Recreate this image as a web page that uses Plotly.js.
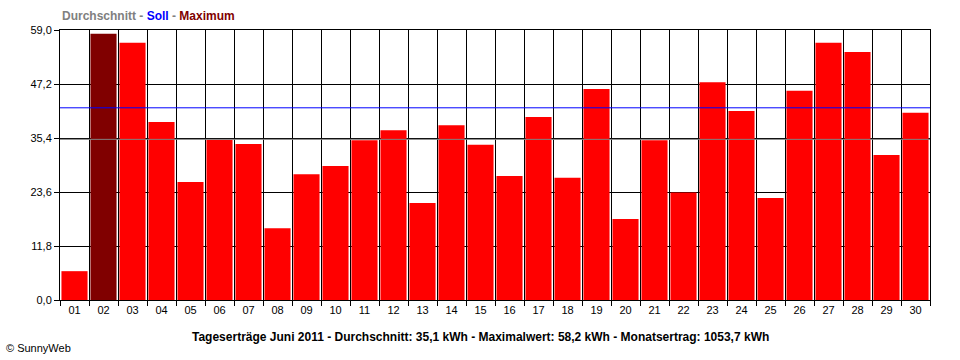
<!DOCTYPE html>
<html><head><meta charset="utf-8">
<script src="https://cdn.plot.ly/plotly-3.0.1.min.js"></script>
<style>html,body{margin:0;padding:0;background:#fff}</style>
</head><body><div id="chart" style="width:960px;height:360px"></div>
<script>
const days = ['01','02','03','04','05','06','07','08','09','10','11','12','13','14','15','16','17','18','19','20','21','22','23','24','25','26','27','28','29','30'];
const yields = [6.3, 58.2, 56.2, 38.9, 25.8, 35.0, 34.1, 15.7, 27.5, 29.3, 34.9, 37.1, 21.2, 38.2, 33.9, 27.1, 40.0, 26.7, 46.1, 17.7, 34.9, 23.5, 47.6, 41.3, 22.3, 45.7, 56.2, 54.2, 31.7, 40.9];
const sollValue = 42.0;
const averageValue = 35.1;
const yTickVals = [0, 11.8, 23.6, 35.4, 47.2, 59.0];
const yTickText = ['0,0', '11,8', '23,6', '35,4', '47,2', '59,0'];
const legendTitle = '<b><span style="color:#808080">Durchschnitt - </span><span style="color:#0000ff">Soll</span><span style="color:#808080"> - </span><span style="color:#800000">Maximum</span></b>';
const bottomTitle = '<b>Tageserträge Juni 2011 - Durchschnitt: 35,1 kWh - Maximalwert: 58,2 kWh - Monatsertrag: 1053,7 kWh</b>';
const copyright = '© SunnyWeb';

const maxVal = Math.max(...yields);
const colors = yields.map(v => v === maxVal ? '#800000' : '#ff0000');
const FONT = 'Liberation Sans, Arial, sans-serif';

const data = [{
  type: 'bar', x: days, y: yields, width: 0.9,
  marker: {color: colors, line: {width: 0}},
  hoverinfo: 'skip'
}];

const layout = {
  width: 960, height: 360,
  margin: {l: 60, r: 30, t: 30, b: 60, pad: 0},
  paper_bgcolor: '#ffffff', plot_bgcolor: '#ffffff',
  font: {family: FONT, size: 11, color: '#000'},
  showlegend: false,
  xaxis: {
    type: 'category', tickson: 'boundaries',
    showgrid: true, gridcolor: '#000', gridwidth: 1,
    ticks: 'outside', ticklen: 5, tickcolor: '#000', tickwidth: 1,
    showline: true, linecolor: '#000', linewidth: 1, mirror: true,
    tickfont: {family: FONT, size: 11, color: '#000'},
    fixedrange: true
  },
  yaxis: {
    range: [0, 59], tickmode: 'array', tickvals: yTickVals, ticktext: yTickText,
    showgrid: true, gridcolor: '#000', gridwidth: 1, zeroline: false,
    ticks: 'outside', ticklen: 5, tickcolor: '#000', tickwidth: 1,
    showline: true, linecolor: '#000', linewidth: 1, mirror: true,
    tickfont: {family: FONT, size: 11, color: '#000'},
    fixedrange: true
  },
  shapes: [
    {type: 'line', xref: 'paper', x0: 0, x1: 1, yref: 'y', y0: averageValue, y1: averageValue, line: {color: '#808080', width: 1}},
    {type: 'line', xref: 'paper', x0: 0, x1: 1, yref: 'y', y0: sollValue, y1: sollValue, line: {color: '#0000ff', width: 1}}
  ],
  annotations: [
    {text: legendTitle, xref: 'paper', yref: 'paper', x: 0, y: 1, xanchor: 'left', yanchor: 'middle', yshift: 14, showarrow: false, font: {family: FONT, size: 12}},
    {text: bottomTitle, xref: 'paper', yref: 'paper', x: 0.5, y: 0, xanchor: 'center', yanchor: 'middle', yshift: -37, xshift: -15, showarrow: false, font: {family: FONT, size: 12, color: '#000'}},
    {text: copyright, xref: 'paper', yref: 'paper', x: -60/870, y: 0, xanchor: 'left', yanchor: 'middle', yshift: -48, xshift: 4, showarrow: false, font: {family: FONT, size: 11, color: '#000'}}
  ]
};
Plotly.newPlot('chart', data, layout, {displayModeBar: false, staticPlot: true});
</script></body></html>
